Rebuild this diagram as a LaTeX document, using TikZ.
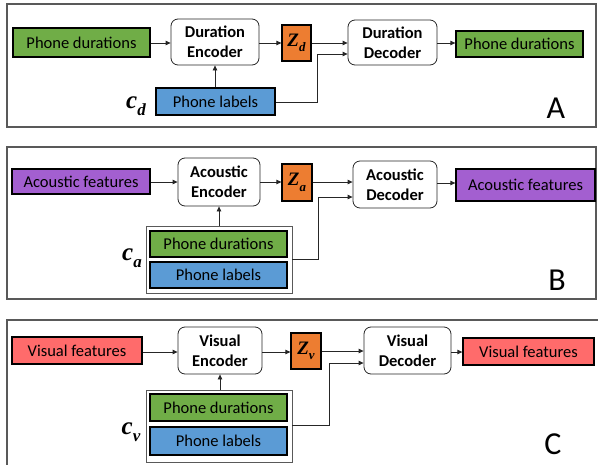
\documentclass[tikz,border=0pt]{standalone}
\usepackage{fontspec}
\setmainfont{Carlito}
\newfontfamily\mfont{Liberation Serif}
\usetikzlibrary{arrows.meta}
\definecolor{cgreen}{HTML}{70AD47}
\definecolor{cblue}{HTML}{5B9BD5}
\definecolor{corange}{HTML}{ED7D31}
\definecolor{cpurple}{HTML}{A35FD0}
\definecolor{cred}{HTML}{FF6B6B}
\definecolor{frameg}{HTML}{595959}
\newcommand{\vsym}[3]{{\mfont\bfseries\itshape\fontsize{#3}{#3}\selectfont #1\raisebox{-0.28em}{\fontsize{0.68\dimexpr #3pt\relax}{1}\selectfont #2}}}
\tikzset{
  x=1pt,y=-1pt,
  txt/.style={font=\fontsize{16.5}{20}\selectfont},
  cbox/.style={draw=black,line width=1.3pt,inner sep=0pt,txt},
  coder/.style={draw=black!85,line width=0.8pt,rounded corners=7pt,inner sep=0pt,align=center,font=\fontsize{16.5}{20}\selectfont\bfseries},
  zbox/.style={draw=black,line width=1.2pt,fill=corange,inner sep=0pt},
  holder/.style={draw=frameg,line width=0.8pt,inner sep=0pt},
  panel/.style={draw=frameg,line width=1.2pt},
  conn/.style={draw=black!85,line width=0.8pt},
  arr/.style={conn,-{Triangle[length=5pt,width=4.5pt]}},
  clab/.style={inner sep=0pt},
  plab/.style={font=\fontsize{32}{36}\selectfont,inner sep=0pt}
}
\begin{document}
\begin{tikzpicture}
\useasboundingbox (0,0) rectangle (598,464);
\clip (0,0) rectangle (598,464);
% ---------- Panel A ----------
\draw[panel] (7,4) rectangle (596,127);
\node[cbox,fill=cgreen,minimum width=137,minimum height=29] (gA) at (81.5,42.5) {Phone durations};
\node[coder,minimum width=88,minimum height=46] (encA) at (215,42) {Duration\\Encoder};
\node[zbox,minimum width=29,minimum height=36] (zA) at (296.5,43) {\vsym{Z}{d}{19}};
\node[coder,minimum width=89,minimum height=45] (decA) at (392.5,42.5) {Duration\\Decoder};
\node[cbox,fill=cgreen,minimum width=127,minimum height=26] (gAo) at (519.5,44) {Phone durations};
\node[cbox,fill=cblue,minimum width=119,minimum height=27] (lA) at (215.5,101.5) {Phone labels};
\node[clab] (cA) at (136,106) {\vsym{c}{d}{25}};
\node[plab] (labA) at (556,108) {A};
\coordinate (kA) at (317,102);
\draw[arr] (gA.east |- 0,43) -- (encA.west |- 0,43);
\draw[arr] (encA.east |- 0,43) -- (zA.west |- 0,43);
\draw[arr] (zA.east |- 0,43) -- (decA.west |- 0,43);
\draw[arr] (decA.east |- 0,43) -- (gAo.west |- 0,43);
\draw[arr] (lA.north -| encA.south) -- (encA.south);
\draw[arr] (lA.east |- kA) -- (kA) -- (kA |- 0,54) -- (decA.west |- 0,54);
% ---------- Panel B ----------
\draw[panel] (7,147) rectangle (596,299);
\node[cbox,fill=cpurple,minimum width=138,minimum height=25] (pB) at (81,181.5) {Acoustic features};
\node[coder,minimum width=82,minimum height=48] (encB) at (219,182) {Acoustic\\Encoder};
\node[zbox,minimum width=30,minimum height=37] (zB) at (297,182.5) {\vsym{Z}{a}{19}};
\node[coder,minimum width=84,minimum height=47] (decB) at (395,184.5) {Acoustic\\Decoder};
\node[cbox,fill=cpurple,minimum width=139,minimum height=32] (pBo) at (525.5,185) {Acoustic features};
\node[holder,minimum width=146,minimum height=67] (hB) at (219,259.5) {};
\node[cbox,fill=cgreen,minimum width=137,minimum height=26] (gB) at (218.5,244) {Phone durations};
\node[cbox,fill=cblue,minimum width=137,minimum height=26] (lB) at (218.5,275) {Phone labels};
\node[clab] (cB) at (132,258) {\vsym{c}{a}{25}};
\node[plab] (labB) at (557,280) {B};
\coordinate (kB) at (318,259);
\draw[arr] (pB.east |- 0,182) -- (encB.west |- 0,182);
\draw[arr] (encB.east |- 0,182) -- (zB.west |- 0,182);
\draw[arr] (zB.east |- 0,182) -- (decB.west |- 0,182);
\draw[arr] (decB.east |- 0,183) -- (pBo.west |- 0,183);
\draw[arr] (hB.north -| encB.south) -- (encB.south);
\draw[arr] (hB.east |- kB) -- (kB) -- (kB |- 0,197) -- (decB.west |- 0,197);
% ---------- Panel C ----------
\draw[panel] (7,320) rectangle (605,475);
\node[cbox,fill=cred,minimum width=130,minimum height=27] (rC) at (77,350.5) {Visual features};
\node[coder,minimum width=84,minimum height=47] (encC) at (220,350.5) {Visual\\Encoder};
\node[zbox,minimum width=30,minimum height=36] (zC) at (306,351) {\vsym{Z}{v}{19}};
\node[coder,minimum width=87,minimum height=47] (decC) at (407.5,350.5) {Visual\\Decoder};
\node[cbox,fill=cred,minimum width=131,minimum height=27] (rCo) at (528.5,351.5) {Visual features};
\node[holder,minimum width=146,minimum height=72] (hC) at (219,426) {};
\node[cbox,fill=cgreen,minimum width=137,minimum height=27] (gC) at (218.5,407.5) {Phone durations};
\node[cbox,fill=cblue,minimum width=137,minimum height=28] (lC) at (218.5,441) {Phone labels};
\node[clab] (cC) at (131,432) {\vsym{c}{v}{25}};
\node[plab] (labC) at (553,444) {C};
\coordinate (kC) at (329,425);
\draw[arr] (rC.east |- 0,352) -- (encC.west |- 0,352);
\draw[arr] (encC.east |- 0,352) -- (zC.west |- 0,352);
\draw[arr] (zC.east |- 0,351) -- (decC.west |- 0,351);
\draw[arr] (decC.east |- 0,352) -- (rCo.west |- 0,352);
\draw[arr] (hC.north -| encC.south) -- (encC.south);
\draw[arr] (hC.east |- kC) -- (kC) -- (kC |- 0,363) -- (decC.west |- 0,363);
\end{tikzpicture}
\end{document}
